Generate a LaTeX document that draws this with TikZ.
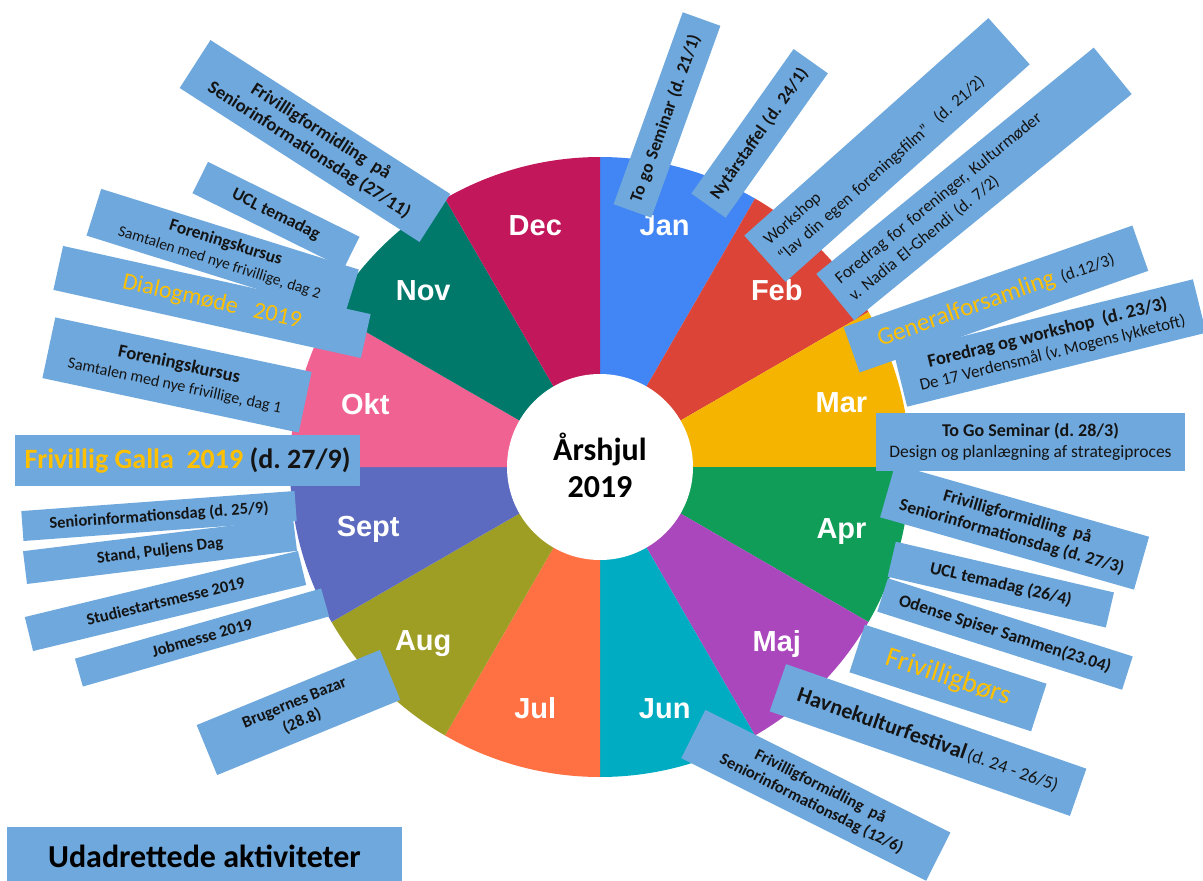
\documentclass[tikz,border=0pt]{standalone}
\usepackage{fontspec}
\setmainfont{Carlito}
\newfontfamily\monthfont{Liberation Sans}
\definecolor{cjan}{HTML}{4285F4}
\definecolor{cfeb}{HTML}{DB4437}
\definecolor{cmar}{HTML}{F4B400}
\definecolor{capr}{HTML}{0F9D58}
\definecolor{cmaj}{HTML}{AB47BC}
\definecolor{cjun}{HTML}{00ACC1}
\definecolor{cjul}{HTML}{FF7043}
\definecolor{caug}{HTML}{9E9D24}
\definecolor{csep}{HTML}{5C6BC0}
\definecolor{cokt}{HTML}{F06292}
\definecolor{cnov}{HTML}{00796B}
\definecolor{cdec}{HTML}{C2185B}
\definecolor{boxblue}{HTML}{6FA8DC}
\definecolor{gold}{HTML}{FFC000}
\definecolor{ink}{HTML}{141414}
\newcommand\fsz[2]{\fontsize{#1}{#2}\selectfont}
\frenchspacing
\begin{document}
\begin{tikzpicture}[x=1pt,y=-1pt,
  bx/.style={fill=boxblue, inner sep=0pt, text=ink, align=center},
  monthlbl/.style={text=white, font=\monthfont\bfseries\fsz{29}{33}},
  b16/.style={font=\bfseries\fsz{17.5}{21}},
  b15/.style={font=\bfseries\fsz{16.5}{20}},
  r15/.style={font=\fsz{17}{22}}]
\useasboundingbox (0,0) rectangle (1203,881);
\coordinate (C) at (600,467);
% wheel
\foreach \a/\c in {60/cjan,30/cfeb,0/cmar,-30/capr,-60/cmaj,-90/cjun,-120/cjul,-150/caug,-180/csep,150/cokt,120/cnov,90/cdec}
  \fill[\c] (C) -- ++(\a:310pt) arc[start angle=\a, end angle=\a+30, radius=310pt] -- cycle;
\fill[white] (C) circle[radius=93pt];
\node[font=\bfseries\fsz{32}{37}, align=center, text=black] (ctr) at ([yshift=2pt]C) {Årshjul\\2019};
% month labels
\node[monthlbl] (mjan) at ([shift={(75:250pt)}]C) {Jan};
\node[monthlbl] (mfeb) at ([shift={(45:250pt)}]C) {Feb};
\node[monthlbl] (mmar) at ([shift={(15:250pt)}]C) {Mar};
\node[monthlbl] (mapr) at ([shift={(-15:250pt)}]C) {Apr};
\node[monthlbl] (mmaj) at ([shift={(-45:250pt)}]C) {Maj};
\node[monthlbl] (mjun) at ([shift={(-75:250pt)}]C) {Jun};
\node[monthlbl] (mjul) at ([shift={(-105:250pt)}]C) {Jul};
\node[monthlbl] (maug) at ([shift={(-135:250pt)}]C) {Aug};
\node[monthlbl] (msep) at ([shift={(-165:240pt)}]C) {Sept};
\node[monthlbl] (mokt) at ([shift={(165:243pt)}]C) {Okt};
\node[monthlbl] (mnov) at ([shift={(135:250pt)}]C) {Nov};
\node[monthlbl] (mdec) at ([shift={(105:250pt)}]C) {Dec};
% January / February
\node[bx, b16, rotate=70.2, minimum height=40pt, text width=184pt, inner xsep=10pt, align=left] (jan1) at (667,115) {To go Seminar (d. 21/1)};
\node[bx, b16, rotate=54.7, minimum height=42pt, text width=157pt, inner xsep=10pt, align=left] (jan2) at (759.6,133.4) {Nytårstaffel (d. 24/1)};
\node[bx, r15, rotate=41.7, minimum height=62pt, text width=303pt, inner xsep=12pt, align=left] (feb1) at (887,150) {Workshop\\“lav din egen foreningsfilm”~~(d. 21/2)};
\node[bx, r15, rotate=39.2, minimum height=60pt, text width=334pt, inner xsep=12pt, align=left] (feb2) at (974,184) {Foredrag for foreninger, Kulturmøder\\v. Nadia El-Ghendi (d. 7/2)};
% March
\node[bx, rotate=19.4, minimum width=306pt, minimum height=48pt] (mar1) at (996,299) {{\color{gold}\fsz{25}{29}Generalforsamling}~~~{\fsz{17}{20}(d.12/3)}};
\node[bx, rotate=13.9, minimum width=308pt, minimum height=55pt, font=\fsz{17}{20.5}] (mar2) at (1050,343) {{\bfseries\fsz{18.5}{20.5}Foredrag og workshop~~(d. 23/3)}\\De 17 Verdensmål (v. Mogens lykketoft)};
\node[bx, minimum width=309pt, minimum height=58pt, font=\fsz{17.5}{20.5}] (mar3) at (1030.5,442) {{\bfseries\fsz{18}{20.5}To Go Seminar (d. 28/3)}\\Design og planlægning af strategiproces};
% April / May / June
\node[bx, b16, rotate=-15.9, minimum width=264pt, minimum height=55pt] (apr1) at (1014.6,527) {Frivilligformidling~~på\\Seniorinformationsdag (d. 27/3)};
\node[bx, b16, rotate=-13.1, minimum width=224pt, minimum height=36pt] (apr2) at (1000.8,584.6) {UCL temadag (26/4)};
\node[bx, b16, rotate=-17.7, minimum width=257pt, minimum height=35pt] (apr3) at (1005,634) {Odense Spiser Sammen(23.04)};
\node[bx, rotate=-18, minimum width=191pt, minimum height=50pt, font=\fsz{28}{32}, text=gold] (maj1) at (948,678) {Frivilligbørs};
\node[bx, rotate=-19.2, minimum width=318pt, minimum height=50pt] (maj2) at (928,740) {{\bfseries\fsz{22}{26}Havnekulturfestival} {\fsz{18}{22}(d. 24 - 26/5)}};
\node[bx, b15, rotate=-26.6, minimum width=274pt, minimum height=54pt] (jun1) at (815.8,795.3) {Frivilligformidling~~på\\Seniorinformationsdag (12/6)};
% August / September
\node[bx, b15, rotate=22.3, minimum width=198pt, minimum height=54pt] (aug1) at (298.5,712.5) {Brugernes Bazar\\(28.8)};
\node[bx, b15, rotate=15.9, minimum width=256pt, minimum height=29pt] (sep1) at (202,637.5) {Jobmesse 2019};
\node[bx, b15, rotate=13.6, minimum width=281pt, minimum height=35pt] (sep2) at (165.5,601) {Studiestartsmesse 2019};
\node[bx, b15, rotate=7, minimum width=272pt, minimum height=33pt] (sep3) at (160,551) {Stand, Puljens Dag};
\node[bx, b15, rotate=4.2, minimum width=274pt, minimum height=30pt] (sep4) at (159,516) {Seniorinformationsdag (d. 25/9)};
\node[bx, minimum width=345pt, minimum height=51pt, font=\bfseries\fsz{28}{32}] (sep5) at (187.5,460.5) {{\color{gold}Frivillig Galla~~2019}~(d. 27/9)};
% October / November
\node[bx, rotate=-12, minimum width=262pt, minimum height=62pt, font=\fsz{16}{21}] (okt1) at (177,375) {{\bfseries\fsz{18.5}{21}Foreningskursus}\\Samtalen med nye frivillige, dag 1};
\node[bx, rotate=-12.5, minimum width=315pt, minimum height=45pt, font=\fsz{24}{28}, text=gold] (okt2) at (212,302) {Dialogmøde~~~2019};
\node[bx, rotate=-17.4, minimum width=270pt, minimum height=49pt, font=\fsz{15.5}{20.5}] (nov1) at (222.7,252.6) {{\bfseries\fsz{17.5}{20.5}Foreningskursus}\\Samtalen med nye frivillige, dag 2};
\node[bx, b16, rotate=-26.3, minimum width=169pt, minimum height=35pt] (nov2) at (276,215) {UCL temadag};
\node[bx, rotate=-32.7, minimum width=285pt, minimum height=57pt, font=\bfseries\fsz{18.5}{22}] (nov3) at (315,141) {Frivilligformidling~~på\\Seniorinformationsdag (27/11)};
% legend
\node[bx, minimum width=395pt, minimum height=58pt, font=\bfseries\fsz{32}{36}, text=black] (leg) at (204.5,856) {Udadrettede aktiviteter};
\end{tikzpicture}
\end{document}
